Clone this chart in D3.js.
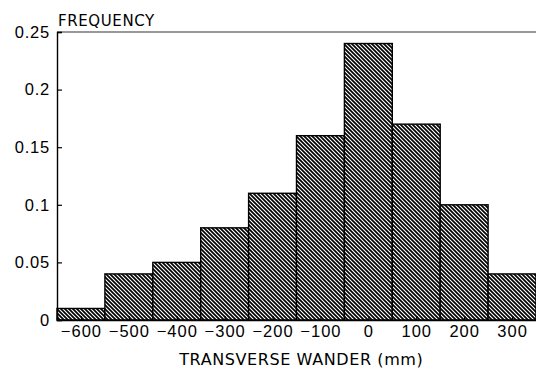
<!DOCTYPE html>
<html>
<head>
<meta charset="utf-8">
<script src="https://cdn.jsdelivr.net/npm/d3@7"></script>
<style>
  body { margin: 0; background: #fff; }
  svg { display: block; font-family: "DejaVu Sans", sans-serif; }
</style>
</head>
<body>
<svg></svg>
<script>
let width = 536, height = 370;

// histogram bins (centres, mm) and frequencies
let binCenters = [-600, -500, -400, -300, -200, -100, 0, 100, 200, 300];
let frequency  = [0.01, 0.04, 0.05, 0.08, 0.11, 0.16, 0.24, 0.17, 0.10, 0.04];
let binWidth = 100;

let xTicks = [-600, -500, -400, -300, -200, -100, 0, 100, 200, 300];
let yTicks = [0, 0.05, 0.1, 0.15, 0.2, 0.25];

let margin = {left: 57, right: 0, top: 32, bottom: 50};

let svg = d3.select("svg")
    .attr("width", width)
    .attr("height", height);

let x = d3.scaleLinear()
    .domain([-650, 350])
    .range([margin.left, width - margin.right]);

let y = d3.scaleLinear()
    .domain([0, 0.25])
    .range([height - margin.bottom, margin.top]);

// hatch pattern
let defs = svg.append("defs");
let pat = defs.append("pattern")
    .attr("id", "hatch")
    .attr("patternUnits", "userSpaceOnUse")
    .attr("width", 4)
    .attr("height", 4);
pat.append("rect").attr("width", 4).attr("height", 4).attr("fill", "#fff");
pat.append("path")
    .attr("d", "M-1,-1 L5,5 M-1,3 L1,5 M3,-1 L5,1")
    .attr("stroke", "#000")
    .attr("stroke-width", 1.7);

let data = binCenters.map((c, i) => ({c: c, f: frequency[i]}));

// bars
svg.append("g")
    .selectAll("rect")
    .data(data)
    .enter()
    .append("rect")
    .attr("x", d => x(d.c - binWidth / 2))
    .attr("y", d => y(d.f))
    .attr("width", d => x(d.c + binWidth / 2) - x(d.c - binWidth / 2))
    .attr("height", d => y(0) - y(d.f))
    .attr("fill", "url(#hatch)")
    .attr("stroke", "#000")
    .attr("stroke-width", 1.4);

// top frame line
svg.append("line")
    .attr("x1", x(-650)).attr("x2", width)
    .attr("y1", y(0.25)).attr("y2", y(0.25))
    .attr("stroke", "#333")
    .attr("stroke-width", 1.2);

// y axis
let yAxis = d3.axisLeft(y)
    .tickValues(yTicks)
    .tickSize(-5)
    .tickPadding(7)
    .tickFormat(d => d === 0 ? "0" : String(d));

let gy = svg.append("g")
    .attr("transform", `translate(${x(-650)},0)`)
    .call(yAxis);
gy.select(".domain").attr("stroke", "#000").attr("stroke-width", 1.4);
gy.selectAll(".tick line").attr("stroke", "#000").attr("stroke-width", 1.2);
gy.selectAll(".tick text")
    .attr("font-size", 16.5)
    .attr("letter-spacing", 0.8)
    .attr("fill", "#000");

// x axis
let xAxis = d3.axisBottom(x)
    .tickValues(xTicks)
    .tickSize(-4)
    .tickPadding(5)
    .tickFormat(d => d < 0 ? "\u2212" + Math.abs(d) : String(d));

let gx = svg.append("g")
    .attr("transform", `translate(0,${y(0)})`)
    .call(xAxis);
gx.select(".domain").attr("stroke", "#000").attr("stroke-width", 1.4);
gx.selectAll(".tick line").attr("stroke", "#000").attr("stroke-width", 1.2);
gx.selectAll(".tick text")
    .attr("font-size", 16.5)
    .attr("letter-spacing", 1)
    .attr("fill", "#000");

// titles
svg.append("text")
    .attr("x", x(-650) + 1)
    .attr("y", 26)
    .attr("font-size", 15)
    .attr("letter-spacing", 0.6)
    .text("FREQUENCY");

svg.append("text")
    .attr("x", x(-140))
    .attr("y", 365)
    .attr("text-anchor", "middle")
    .attr("font-size", 16)
    .attr("letter-spacing", 0.6)
    .text("TRANSVERSE WANDER (mm)");
</script>
</body>
</html>
